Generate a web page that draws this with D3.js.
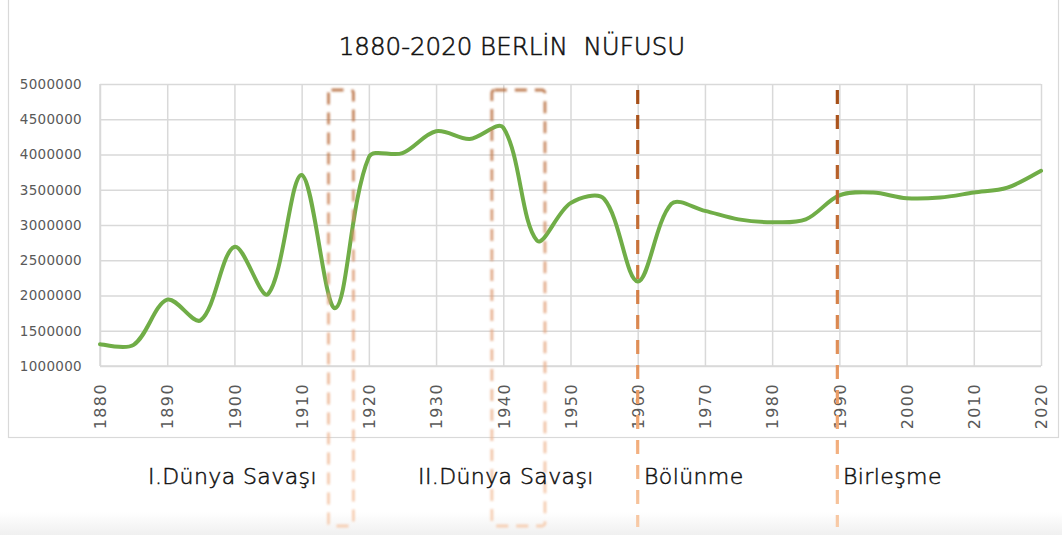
<!DOCTYPE html>
<html>
<head>
<meta charset="utf-8">
<script src="https://cdn.jsdelivr.net/npm/d3@7"></script>
<style>
  html, body { margin: 0; padding: 0; background: #fff; }
  svg { display: block; }
</style>
</head>
<body>
<svg id="chart" width="1062" height="535"></svg>
<script>
// ---- data ----
const title = "1880-2020 BERLİN  NÜFUSU";
const years = [1880,1885,1890,1895,1900,1905,1910,1915,1920,1925,1930,1935,1940,1945,1950,1955,1960,1965,1970,1975,1980,1985,1990,1995,2000,2005,2010,2015,2020];
const population = [1310000,1300000,1940000,1650000,2690000,2020000,3710000,1820000,3960000,4020000,4330000,4220000,4380000,2780000,3310000,3370000,2200000,3300000,3200000,3080000,3040000,3080000,3420000,3460000,3380000,3390000,3460000,3530000,3770000];
const xTickValues = [1880,1890,1900,1910,1920,1930,1940,1950,1960,1970,1980,1990,2000,2010,2020];
const yTickValues = [1000000,1500000,2000000,2500000,3000000,3500000,4000000,4500000,5000000];
const warPeriods = [
  {label: "I.Dünya Savaşı", start: 1914, end: 1917.7},
  {label: "II.Dünya Savaşı", start: 1938.3, end: 1946.2}
];
const events = [
  {label: "Bölünme", year: 1960},
  {label: "Birleşme", year: 1989.7}
];
const annotationLabels = ["I.Dünya Savaşı", "II.Dünya Savaşı", "Bölünme", "Birleşme"];

// ---- layout ----
const svg = d3.select("#chart");
const L = 100, R = 1041, T = 84, B = 366;
const x = d3.scaleLinear().domain([1880, 2020]).range([L, R]);
const y = d3.scaleLinear().domain([1000000, 5000000]).range([B, T]);

// spreadsheet-style smoothed line (chord-length weighted Bezier tangents)
function smoothPath(p) {
  const path = d3.path();
  const n = p.length;
  const dist = (a, b) => Math.hypot(b[0] - a[0], b[1] - a[1]);
  const cpIn = [], cpOut = [];
  for (let i = 0; i < n; i++) {
    const prev = p[Math.max(0, i - 1)], next = p[Math.min(n - 1, i + 1)];
    const d = [next[0] - prev[0], next[1] - prev[1]];
    const l1 = i > 0 ? dist(p[i - 1], p[i]) : dist(p[i], p[i + 1]);
    const l2 = i < n - 1 ? dist(p[i], p[i + 1]) : dist(p[i - 1], p[i]);
    const s = l1 + l2;
    const fo = (l2 / s) / 3, fi = (l1 / s) / 3;
    const ff = (i === 0 || i === n - 1) ? 0.5 : 1;
    cpOut.push([p[i][0] + d[0] * fo * ff, p[i][1] + d[1] * fo * ff]);
    cpIn.push([p[i][0] - d[0] * fi * ff, p[i][1] - d[1] * fi * ff]);
  }
  path.moveTo(p[0][0], p[0][1]);
  for (let i = 0; i < n - 1; i++) {
    path.bezierCurveTo(cpOut[i][0], cpOut[i][1], cpIn[i + 1][0], cpIn[i + 1][1], p[i + 1][0], p[i + 1][1]);
  }
  return path.toString();
}

const defs = svg.append("defs");
const gLine = defs.append("linearGradient").attr("id", "gradLine")
  .attr("gradientUnits", "userSpaceOnUse").attr("x1", 0).attr("x2", 0).attr("y1", 90).attr("y2", 527);
gLine.append("stop").attr("offset", 0).attr("stop-color", "#a34c15");
gLine.append("stop").attr("offset", 0.45).attr("stop-color", "#d27d45");
gLine.append("stop").attr("offset", 0.75).attr("stop-color", "#f0a46e");
gLine.append("stop").attr("offset", 1).attr("stop-color", "#f8cba8");

const gBox = defs.append("linearGradient").attr("id", "gradBox")
  .attr("gradientUnits", "userSpaceOnUse").attr("x1", 0).attr("x2", 0).attr("y1", 90).attr("y2", 527);
gBox.append("stop").attr("offset", 0).attr("stop-color", "#b56a3a");
gBox.append("stop").attr("offset", 0.5).attr("stop-color", "#e3a47e");
gBox.append("stop").attr("offset", 1).attr("stop-color", "#f6c8a8");

const blur = defs.append("filter").attr("id", "soft").attr("x", "-50%").attr("y", "-5%").attr("width", "200%").attr("height", "110%");
blur.append("feGaussianBlur").attr("stdDeviation", 0.8);

// faint bottom shading
const gShade = defs.append("linearGradient").attr("id", "gradShade").attr("x1", 0).attr("x2", 0).attr("y1", 0).attr("y2", 1);
gShade.append("stop").attr("offset", 0).attr("stop-color", "#ffffff");
gShade.append("stop").attr("offset", 1).attr("stop-color", "#f0f0f0");
svg.append("rect").attr("x", 0).attr("y", 512).attr("width", 1062).attr("height", 23).attr("fill", "url(#gradShade)");

// outer chart border
svg.append("rect").attr("x", 8.5).attr("y", -2).attr("width", 1050).attr("height", 439.5)
  .attr("fill", "#fff").attr("stroke", "#d9d9d9").attr("stroke-width", 1.2);

// title
svg.append("text").attr("x", 512).attr("y", 55).attr("text-anchor", "middle")
  .style("white-space", "pre").attr("xml:space", "preserve")
  .attr("font-family", "DejaVu Sans").attr("font-weight", 200).attr("font-size", 24.5)
  .attr("fill", "#111").attr("stroke", "#111").attr("stroke-width", 0.55)
  .text(title);

// y axis with horizontal gridlines
const yAxis = d3.axisLeft(y).tickValues(yTickValues).tickSize(-(R - L)).tickPadding(18)
  .tickFormat(d3.format("d"));
const gy = svg.append("g").attr("transform", `translate(${L},0)`).call(yAxis);
gy.select(".domain").remove();
gy.selectAll(".tick line").attr("stroke", "#d9d9d9").attr("stroke-width", 1.5);
gy.selectAll(".tick text").attr("font-family", "DejaVu Sans").attr("font-size", 13.5)
  .attr("fill", "#595959").attr("letter-spacing", 0.3);

// x axis with vertical gridlines
const xAxis = d3.axisBottom(x).tickValues(xTickValues).tickSize(-(B - T)).tickPadding(0)
  .tickFormat(d3.format("d"));
const gx = svg.append("g").attr("transform", `translate(0,${B})`).call(xAxis);
gx.select(".domain").remove();
gx.selectAll(".tick line").attr("stroke", "#d9d9d9").attr("stroke-width", 1.5);
gx.selectAll(".tick text")
  .attr("font-family", "DejaVu Sans").attr("font-size", 16).attr("letter-spacing", 1.4)
  .attr("fill", "#595959")
  .attr("text-anchor", "end")
  .attr("transform", "rotate(-90)")
  .attr("x", -17).attr("y", 0).attr("dy", "0.36em");

// axis frame lines (left and bottom)
svg.append("line").attr("x1", L).attr("x2", L).attr("y1", T).attr("y2", B).attr("stroke", "#d9d9d9").attr("stroke-width", 1.5);
svg.append("line").attr("x1", L).attr("x2", R).attr("y1", B).attr("y2", B).attr("stroke", "#d9d9d9").attr("stroke-width", 1.5);

// population line
const pts = years.map((yr, i) => [x(yr), y(population[i])]);
svg.append("path").attr("d", smoothPath(pts))
  .attr("fill", "none").attr("stroke", "#70ad47").attr("stroke-width", 4)
  .attr("stroke-linejoin", "round").attr("stroke-linecap", "round");

// war boxes (dashed, rounded)
const boxTop = 90, boxBottom = 526;
svg.append("g").selectAll("rect").data(warPeriods).join("rect")
  .attr("x", d => x(d.start)).attr("y", boxTop)
  .attr("width", d => x(d.end) - x(d.start)).attr("height", boxBottom - boxTop)
  .attr("rx", 3).attr("ry", 3)
  .attr("fill", "none").attr("stroke", "url(#gradBox)").attr("stroke-width", 2.8)
  .attr("stroke-dasharray", "12 8").attr("opacity", 0.85).attr("filter", "url(#soft)");

// event dashed lines
svg.append("g").selectAll("line").data(events).join("line")
  .attr("x1", d => x(d.year)).attr("x2", d => x(d.year))
  .attr("y1", 90).attr("y2", 527)
  .attr("stroke", "url(#gradLine)").attr("stroke-width", 3.2)
  .attr("stroke-dasharray", "14 11");

// annotation labels
const labelX = [148, 418, 644, 843];
svg.append("g").selectAll("text").data(annotationLabels).join("text")
  .attr("x", (d, i) => labelX[i]).attr("y", 484)
  .attr("font-family", "DejaVu Sans").attr("font-weight", 200).attr("font-size", 22).attr("letter-spacing", 0.4)
  .attr("fill", "#111").attr("stroke", "#111").attr("stroke-width", 0.5)
  .text(d => d);
</script>
</body>
</html>
